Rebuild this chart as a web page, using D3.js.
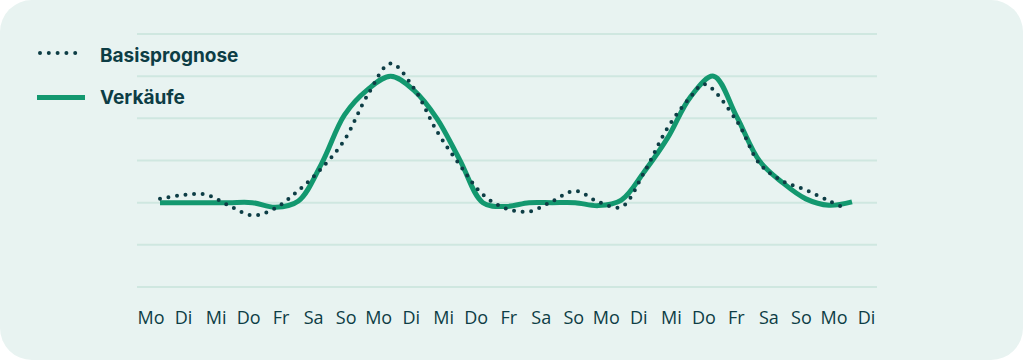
<!DOCTYPE html>
<html>
<head>
<meta charset="utf-8">
<script src="https://cdn.jsdelivr.net/npm/d3@7"></script>
<style>
  html, body { margin: 0; padding: 0; background: #ffffff; }
  svg { display: block; }
</style>
</head>
<body>
<svg id="chart" width="1024" height="361"></svg>
<script>
// ---- data ----
const dayLabels = ["Mo","Di","Mi","Do","Fr","Sa","So","Mo","Di","Mi","Do","Fr","Sa","So","Mo","Di","Mi","Do","Fr","Sa","So","Mo","Di"];
const gridValues = [0, 1, 2, 3, 4, 5, 6];

// sales (Verkäufe), sampled every half day
const salesDays = [0,0.5,1,1.5,2,2.5,3,3.5,4,4.5,5,5.5,6,6.5,7,7.5,8,8.5,9,9.5,10,10.5,11,11.5,12,12.5,13,13.5,14,14.5,15];
const salesValues = [2.0,2.0,2.0,2.0,2.0,1.89,2.04,2.92,4.08,4.68,5.0,4.67,4.0,3.01,2.0,1.91,2.0,2.0,2.0,1.93,2.06,2.74,3.53,4.51,5.0,4.04,2.98,2.47,2.09,1.94,2.02];

// base forecast (Basisprognose)
const baseDays = [0,0.5,1,1.5,2,2.5,3,3.5,4,4.5,5,5.5,6,6.5,7,7.5,8,8.5,9,9.5,10,10.5,11,11.5,11.8,12.5,13,13.5,14,14.5,14.85];
const baseValues = [2.09,2.18,2.19,1.93,1.70,1.87,2.29,2.81,3.49,4.55,5.30,4.72,3.70,2.89,2.19,1.86,1.79,2.03,2.28,2.02,1.90,2.73,3.77,4.51,4.81,3.94,2.92,2.51,2.30,2.04,1.87];

const legendItems = ["Basisprognose", "Verkäufe"];

// ---- drawing ----
const svg = d3.select("#chart");
const ink = "#0d3d45";
const green = "#13986f";

svg.append("rect")
  .attr("x", 0).attr("y", 0)
  .attr("width", 1023).attr("height", 360)
  .attr("rx", 32).attr("ry", 32)
  .attr("fill", "#e8f3f1");

const y = d3.scaleLinear().domain([0, 6]).range([287, 34]);
const xData = d3.scaleLinear().domain([0, 15]).range([160, 852]);
const xLab = d3.scalePoint().domain(d3.range(dayLabels.length)).range([150.5, 866]);

// grid
svg.append("g").selectAll("line").data(gridValues).join("line")
  .attr("x1", 137).attr("x2", 877)
  .attr("y1", d => y(d)).attr("y2", d => y(d))
  .attr("stroke", "#cfe7e0").attr("stroke-width", 2);

// x axis labels
const ax = svg.append("g").attr("transform", "translate(0,310)")
  .call(d3.axisBottom(xLab).tickSize(0).tickPadding(0).tickFormat(i => dayLabels[i]));
ax.select(".domain").remove();
ax.selectAll("text")
  .attr("font-family", "'Open Sans', sans-serif")
  .attr("font-size", 18)
  .attr("fill", ink)
  .attr("dy", "0.75em");

// lines
const lineGen = d3.line().curve(d3.curveCatmullRom.alpha(0.5));
const salesPts = salesDays.map((d, i) => [xData(d), y(salesValues[i])]);
const basePts = baseDays.map((d, i) => [xData(d), y(baseValues[i])]);

svg.append("path")
  .attr("d", lineGen(salesPts))
  .attr("fill", "none")
  .attr("stroke", green)
  .attr("stroke-width", 5);

svg.append("path")
  .attr("d", lineGen(basePts))
  .attr("fill", "none")
  .attr("stroke", ink)
  .attr("stroke-width", 4)
  .attr("stroke-linecap", "round")
  .attr("stroke-dasharray", "0 8.6");

// legend
const lg = svg.append("g");
lg.append("line")
  .attr("x1", 40).attr("x2", 84).attr("y1", 53).attr("y2", 53)
  .attr("stroke", ink).attr("stroke-width", 4)
  .attr("stroke-linecap", "round").attr("stroke-dasharray", "0 8.8");
lg.append("line")
  .attr("x1", 37).attr("x2", 85).attr("y1", 97.5).attr("y2", 97.5)
  .attr("stroke", green).attr("stroke-width", 5);
lg.selectAll("text").data(legendItems).join("text")
  .attr("x", 100)
  .attr("y", (d, i) => i === 0 ? 62 : 104)
  .attr("font-family", "Inter, sans-serif")
  .attr("font-weight", 700)
  .attr("font-size", 19)
  .attr("fill", ink)
  .text(d => d);
</script>
</body>
</html>
